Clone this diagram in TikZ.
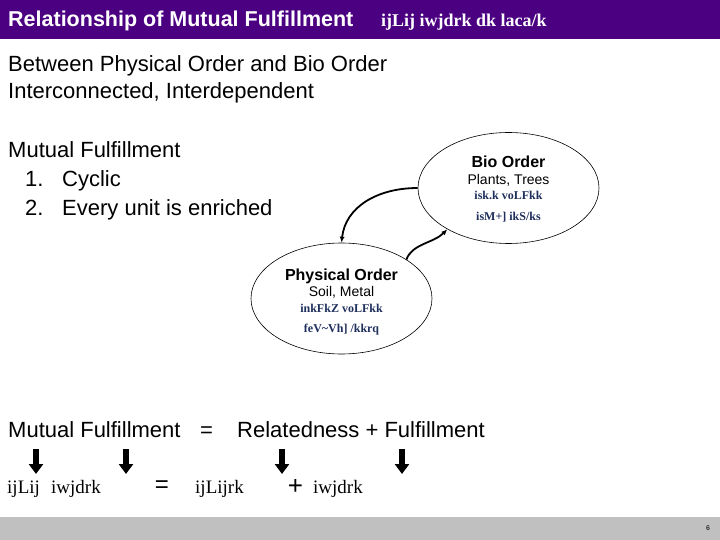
\documentclass[tikz,border=0pt]{standalone}
\usepackage{fontspec}
\setmainfont{Liberation Sans}
\newfontfamily\kruti{Liberation Serif}
\usepackage{xcolor}
\definecolor{Indigo}{HTML}{4B0082}
\definecolor{BarGray}{HTML}{C0C0C0}
\definecolor{Navy}{HTML}{1F2F5C}
\usepackage{tikz}
\usetikzlibrary{arrows.meta,positioning,calc,shapes.geometric}
\tikzset{
  bodytext/.style={font=\fontsize{22}{26}\selectfont,anchor=base west,inner sep=0pt},
  hinditext/.style={font=\kruti\fontsize{19}{22}\selectfont,anchor=base west,inner sep=0pt},
  orderell/.style={draw,ellipse,minimum width=181pt,minimum height=111pt,inner sep=0pt,line width=0.6pt},
  ordhead/.style={font=\bfseries\fontsize{16}{19}\selectfont,anchor=base,inner sep=0pt},
  ordsub/.style={font=\fontsize{14}{17}\selectfont,anchor=base,inner sep=0pt},
  ordhindi/.style={font=\kruti\bfseries\fontsize{12}{14}\selectfont,text=Navy,anchor=base,inner sep=0pt},
  cycarrow/.style={-{Latex[length=6pt,width=5pt]},line width=1.8pt},
  downarrow/.style={-{Triangle[length=10pt,width=14pt]},line width=6pt}
}

\begin{document}
\begin{tikzpicture}[x=1pt,y=-1pt]
  \useasboundingbox (0,0) rectangle (720,540);
  \fill[Indigo] (0,0) rectangle (720,39);
  \fill[BarGray] (0,517) rectangle (720,540);
  \node[bodytext,text=white,font=\bfseries\fontsize{21.5}{25}\selectfont] (title) at (8,27) {Relationship of Mutual Fulfillment};
  \node[anchor=base west,inner sep=0pt,text=white,font=\kruti\bfseries\fontsize{18}{21}\selectfont] (titlehi) at (381,27) {ijLij iwjdrk dk laca/k};
  \node[font=\bfseries\fontsize{7}{8}\selectfont,text=black!80] (pageno) at (708,528) {6};

  \node[bodytext] (between) at (8,72) {Between Physical Order and Bio Order};
  \node[bodytext] (inter) at (8,99) {Interconnected, Interdependent};
  \node[bodytext] (mutual) at (8,158) {Mutual Fulfillment};
  \node[bodytext] (num1) at (25,187) {1.};
  \node[bodytext] (cyclic) at (62,187) {Cyclic};
  \node[bodytext] (num2) at (25,215) {2.};
  \node[bodytext] (every) at (62,215) {Every unit is enriched};

  \node[orderell] (bio) at (508.5,188) {};
  \node[ordhead] (biohead) at ($(bio)+(0,-20)$) {Bio Order};
  \node[ordsub] (biosub) at ($(bio)+(0,-3)$) {Plants, Trees};
  \node[ordhindi] (biohi1) at ($(bio)+(0,12)$) {isk.k voLFkk};
  \node[ordhindi] (biohi2) at ($(bio)+(0,33)$) {isM+] ikS/ks};

  \node[orderell] (phys) at (341.5,298.5) {};
  \node[ordhead] (physhead) at ($(phys)+(0,-18.5)$) {Physical Order};
  \node[ordsub] (physsub) at ($(phys)+(0,-2.5)$) {Soil, Metal};
  \node[ordhindi] (physhi1) at ($(phys)+(0,13.5)$) {inkFkZ voLFkk};
  \node[ordhindi] (physhi2) at ($(phys)+(0,33.5)$) {feV\textasciitilde Vh] /kkrq};

  \draw[cycarrow] (bio.west) .. controls +(-40,0) and +(4,-36) .. (phys.north);
  \draw[cycarrow] (phys.31) .. controls +(6,-16) and +(-14,14) .. (bio.214);

  \node[bodytext] (mfleft) at (8,437) {Mutual Fulfillment};
  \node[bodytext] (mfeq) at (200,437) {=};
  \node[bodytext] (mfright) at (237,437) {Relatedness + Fulfillment};

  \foreach \x [count=\i] in {36,126,282,402} {
    \coordinate (top\i) at (\x,449);
    \coordinate (bot\i) at (\x,474);
    \draw[downarrow] (top\i) -- (bot\i);
  }

  \node[hinditext] (hi1) at (7,493) {ijLij};
  \node[hinditext] (hi2) at (51,493) {iwjdrk};
  \node[font=\fontsize{24}{28}\selectfont,inner sep=0pt] (hieq) at (162,487) {=};
  \node[hinditext] (hi3) at (195,493) {ijLijrk};
  \node[font=\fontsize{26}{30}\selectfont,inner sep=0pt] (hiplus) at (295.5,487) {+};
  \node[hinditext] (hi4) at (313,493) {iwjdrk};
\end{tikzpicture}
\end{document}
